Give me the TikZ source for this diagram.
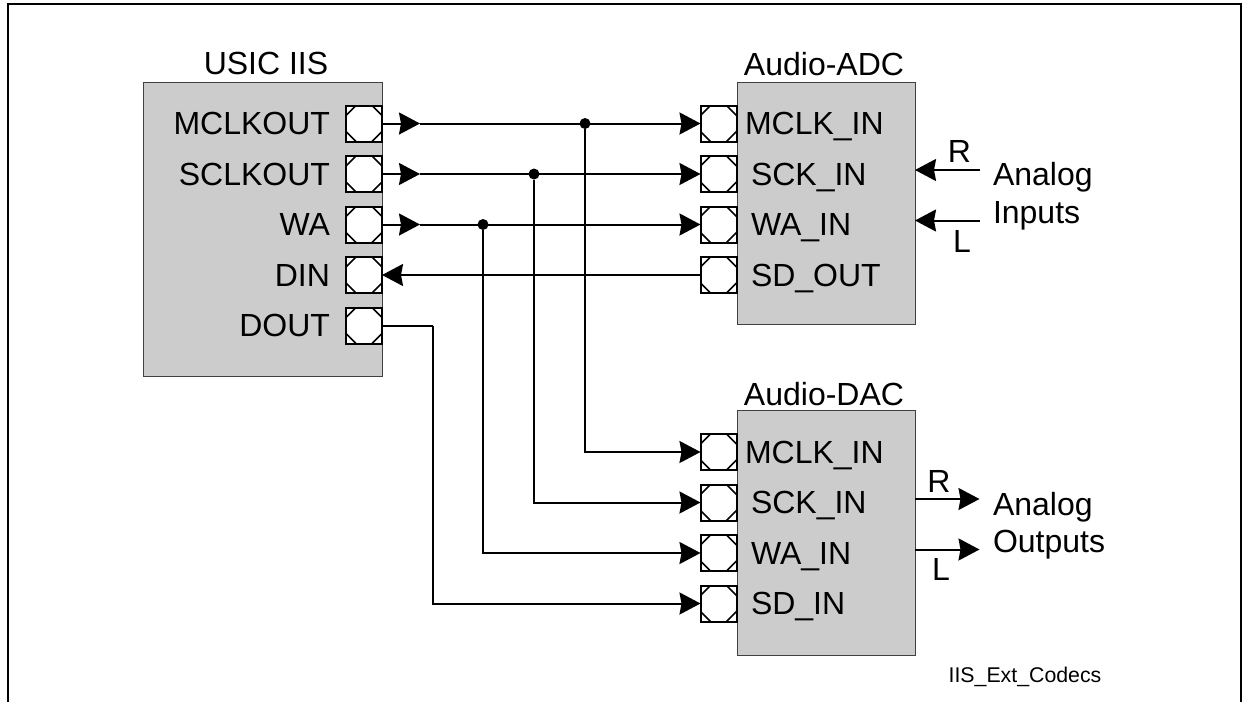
\documentclass[tikz,border=0pt]{standalone}
\usepackage{fontspec}
\setmainfont{Liberation Sans}
\usetikzlibrary{positioning,arrows.meta,calc}
\definecolor{blockgray}{HTML}{CCCCCC}

\begin{document}
\begin{tikzpicture}[x=1pt, y=-1pt, font=\fontsize{32}{36}\selectfont, node distance=14.5pt]
  \tikzset{
    block/.style={rectangle, draw=black!75, line width=1pt, fill=blockgray, anchor=north west, inner sep=0pt, outer sep=0pt},
    pad/.style={rectangle, draw=black, line width=2pt, fill=white, minimum size=36pt, inner sep=0pt, outer sep=0pt,
      path picture={
        \draw[line width=1.6pt] ([xshift=10pt]path picture bounding box.north west) -- ([yshift=-10pt]path picture bounding box.north west);
        \draw[line width=1.6pt] ([xshift=-10pt]path picture bounding box.north east) -- ([yshift=-10pt]path picture bounding box.north east);
        \draw[line width=1.6pt] ([xshift=10pt]path picture bounding box.south west) -- ([yshift=10pt]path picture bounding box.south west);
        \draw[line width=1.6pt] ([xshift=-10pt]path picture bounding box.south east) -- ([yshift=10pt]path picture bounding box.south east);
      }},
    pin/.style={inner sep=0pt, outer sep=0pt, text height=22pt, text depth=0pt},
    title/.style={inner sep=0pt, outer sep=0pt, text height=22pt, text depth=0pt},
    sig/.style={line width=2pt, -{Stealth[length=21pt, width=22pt, inset=2pt]}},
    wire/.style={line width=2pt},
    dot/.style={circle, fill=black, minimum size=11pt, inner sep=0pt, outer sep=0pt}
  }

  % frame, open at the bottom
  \useasboundingbox (0,0) rectangle (1242,702);
  \coordinate (frameA) at (8,702);
  \coordinate (frameB) at (8,4);
  \coordinate (frameC) at (1241,4);
  \coordinate (frameD) at (1241,702);
  \draw[line width=2pt] (frameA) -- (frameB) -- (frameC) -- (frameD);

  % blocks
  \node[block, minimum width=239pt, minimum height=294pt] (usic) at (143,82) {};
  \node[block, minimum width=178pt, minimum height=242pt] (adc) at (737,82) {};
  \node[block, minimum width=178pt, minimum height=245pt] (dac) at (737,410) {};
  \node[title] (usicT) at (266,63) {USIC IIS};
  \node[title] (adcT) at (824,64) {Audio-ADC};
  \node[title] (dacT) at (824,394) {Audio-DAC};

  % pads USIC
  \node[pad] (mclkout) at (364,123.5) {};
  \node[pad, below=of mclkout] (sclkout) {};
  \node[pad, below=of sclkout] (wa) {};
  \node[pad, below=of wa] (din) {};
  \node[pad, below=of din] (dout) {};
  \node[pin, left=16pt of mclkout] {MCLKOUT};
  \node[pin, left=16pt of sclkout] {SCLKOUT};
  \node[pin, left=16pt of wa] {WA};
  \node[pin, left=16pt of din] {DIN};
  \node[pin, left=16pt of dout] {DOUT};

  % pads ADC
  \node[pad] (amclk) at (718.5,123.5) {};
  \node[pad, below=of amclk] (asck) {};
  \node[pad, below=of asck] (awa) {};
  \node[pad, below=of awa] (asd) {};
  \node[pin, right=8.5pt of amclk] {MCLK\_IN};
  \node[pin, right=14.5pt of asck] {SCK\_IN};
  \node[pin, right=14.5pt of awa] {WA\_IN};
  \node[pin, right=14.5pt of asd] {SD\_OUT};

  % pads DAC
  \node[pad] (dmclk) at (718.5,452) {};
  \node[pad, below=of dmclk] (dsck) {};
  \node[pad, below=of dsck] (dwa) {};
  \node[pad, below=of dwa] (dsd) {};
  \node[pin, right=8.5pt of dmclk] {MCLK\_IN};
  \node[pin, right=14.5pt of dsck] {SCK\_IN};
  \node[pin, right=14.5pt of dwa] {WA\_IN};
  \node[pin, right=14.5pt of dsd] {SD\_IN};

  % wires
  \foreach \a/\b/\x in {mclkout/amclk/585,sclkout/asck/534,wa/awa/483} {
    \coordinate (tip\a) at ($(\a.east)+(38,0)$);
    \draw[sig] (\a.east) -- (tip\a);
    \draw[sig] (tip\a) -- (\b.west);
    \node[dot] (j\a) at (\x,0 |- \a) {};
  }
  \draw[sig] (jmclkout) |- (dmclk.west);
  \draw[sig] (jsclkout) |- (dsck.west);
  \draw[sig] (jwa) |- (dwa.west);
  \draw[sig] (asd.west) -- (din.east);
  \coordinate (bend) at (433,0 |- dout);
  \draw[wire] (dout.east) -- (bend);
  \draw[sig] (bend) |- (dsd.west);

  % analog side
  \coordinate (inR) at (980,170);
  \coordinate (inL) at (980,220.5);
  \coordinate (outR) at (979.5,499);
  \coordinate (outL) at (979.5,549.5);
  \draw[sig] (inR) -- (adc.east |- inR);
  \draw[sig] (inL) -- (adc.east |- inL);
  \draw[sig] (dac.east |- outR) -- (outR);
  \draw[sig] (dac.east |- outL) -- (outL);
  \node[title] (labInR) at (959.5,151) {R};
  \node[title] (labInL) at (962,241) {L};
  \node[title] (labOutR) at (939,481) {R};
  \node[title] (labOutL) at (941,569) {L};
  \node[title, anchor=west] (anaIn) at (993,174) {Analog};
  \node[title, anchor=west] (inputs) at (993,212) {Inputs};
  \node[title, anchor=west] (anaOut) at (993,504) {Analog};
  \node[title, anchor=west] (outputs) at (993,541.5) {Outputs};

  \node[inner sep=0pt, font=\fontsize{21.3}{24}\selectfont] (figname) at (1025,677) {IIS\_Ext\_Codecs};
\end{tikzpicture}
\end{document}
